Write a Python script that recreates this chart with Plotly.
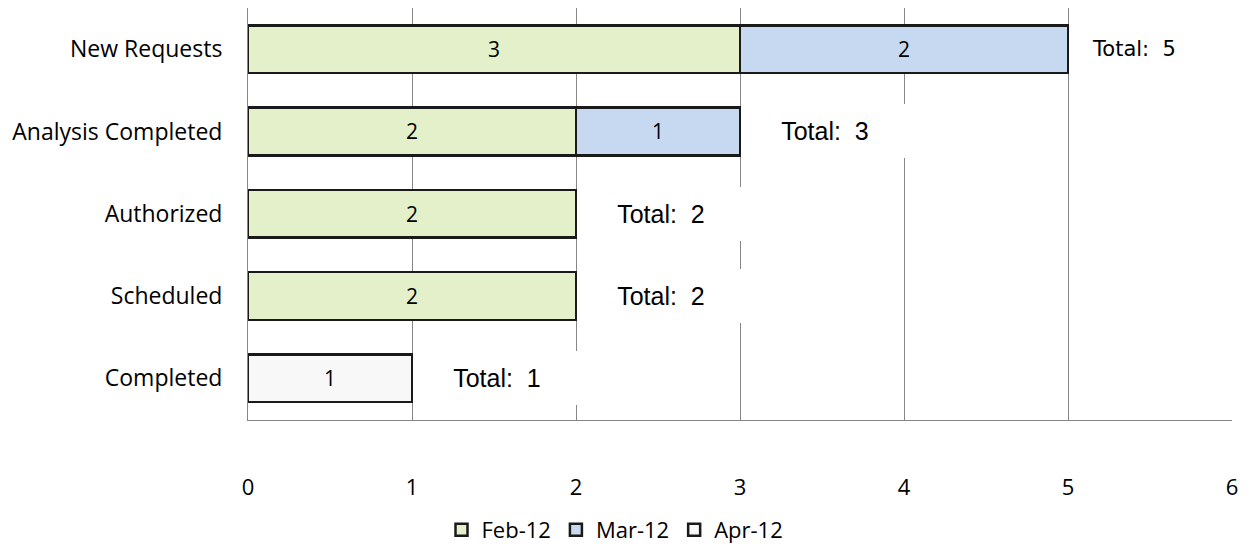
import plotly.graph_objects as go

categories = ["New Requests", "Analysis Completed", "Authorized", "Scheduled", "Completed"]
feb_12 = [3, 2, 2, 2, None]
mar_12 = [2, 1, None, None, None]
apr_12 = [None, None, None, None, 1]
x_ticks = [0, 1, 2, 3, 4, 5, 6]

series = [
    ("Feb-12", feb_12, "#E3F0C9"),
    ("Mar-12", mar_12, "#C6D9F1"),
    ("Apr-12", apr_12, "#F8F8F8"),
]

LABEL_FONT = dict(family="Open Sans", size=23, color="#000000")

fig = go.Figure()
for name, vals, color in series:
    fig.add_trace(go.Bar(
        y=categories, x=vals, name=name, orientation="h",
        marker=dict(color=color, line=dict(color="#1a1a1a", width=2.5)),
        texttemplate="%{x}", textposition="inside", insidetextanchor="middle",
        textangle=0, constraintext="none",
        insidetextfont=dict(family="Open Sans", size=21, color="#000000"),
    ))

totals = [sum(v for v in vals if v is not None) for vals in zip(feb_12, mar_12, apr_12)]
for cat, tot in zip(categories, totals):
    if cat == categories[0]:
        font = dict(family="DejaVu Sans", size=21, color="#000000")
        width = 128
    else:
        font = dict(family="Liberation Sans", size=25, color="#000000")
        width = 166
    fig.add_annotation(
        x=tot, y=cat, xref="x", yref="y", xanchor="left", yanchor="middle",
        text=f"Total:\u00a0 {tot}", showarrow=False, font=font,
        bgcolor="#FFFFFF", width=width, height=54, align="center",
        borderpad=0, borderwidth=0, xshift=2,
    )

fig.update_layout(
    width=1250, height=548,
    margin=dict(l=248, r=18, t=8, b=127),
    paper_bgcolor="#FFFFFF", plot_bgcolor="#FFFFFF",
    barmode="stack", bargap=0.42,
    uniformtext=dict(minsize=21, mode="show"),
    showlegend=True,
    legend=dict(
        orientation="h", xref="container", yref="container",
        x=0.492, xanchor="center", y=0.033, yanchor="middle",
        traceorder="normal", font=dict(family="Open Sans", size=22, color="#000000"),
        itemwidth=30,
    ),
    xaxis=dict(
        range=[0, 6], tickvals=x_ticks, ticktext=[str(t) for t in x_ticks],
        showgrid=True, gridcolor="#868686", gridwidth=1,
        showline=True, linecolor="#868686", linewidth=1,
        zeroline=False, ticks="", ticklabelstandoff=48,
        tickfont=dict(family="Open Sans", size=22, color="#000000"),
    ),
    yaxis=dict(
        autorange="reversed", showgrid=False,
        showline=True, linecolor="#868686", linewidth=1,
        ticks="", ticklabelstandoff=20, tickfont=LABEL_FONT,
    ),
)

fig.write_html("out.html")
